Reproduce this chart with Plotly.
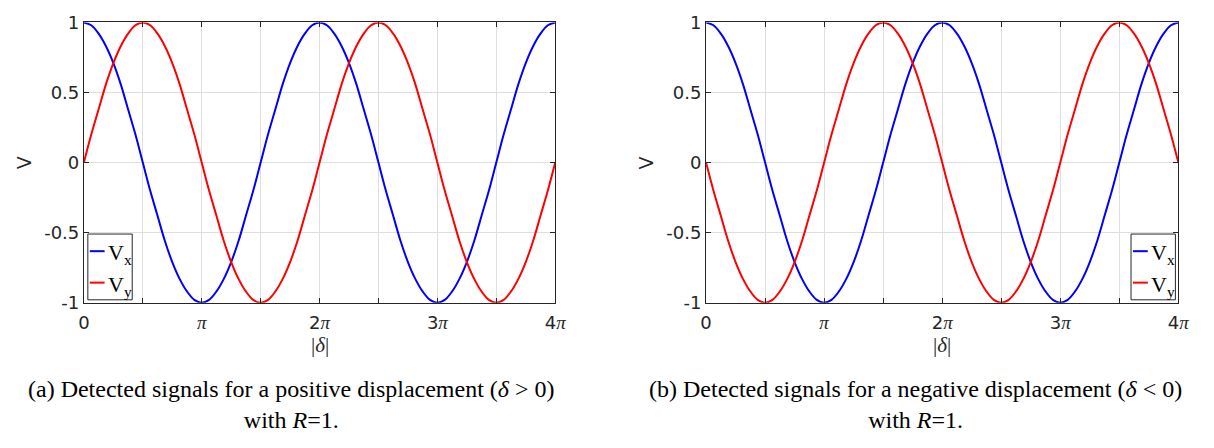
import plotly.graph_objects as go

W, H = 1214, 448

# ---- data ----
delta_over_pi = [0, 0.0625, 0.125, 0.1875, 0.25, 0.3125, 0.375, 0.4375,
                 0.5, 0.5625, 0.625, 0.6875, 0.75, 0.8125, 0.875, 0.9375,
                 1.0, 1.0625, 1.125, 1.1875, 1.25, 1.3125, 1.375, 1.4375,
                 1.5, 1.5625, 1.625, 1.6875, 1.75, 1.8125, 1.875, 1.9375,
                 2.0, 2.0625, 2.125, 2.1875, 2.25, 2.3125, 2.375, 2.4375,
                 2.5, 2.5625, 2.625, 2.6875, 2.75, 2.8125, 2.875, 2.9375,
                 3.0, 3.0625, 3.125, 3.1875, 3.25, 3.3125, 3.375, 3.4375,
                 3.5, 3.5625, 3.625, 3.6875, 3.75, 3.8125, 3.875, 3.9375,
                 4.0]

vx_pos = [1, 0.98, 0.92, 0.83, 0.71, 0.56, 0.38, 0.2,
          0, -0.2, -0.38, -0.56, -0.71, -0.83, -0.92, -0.98,
          -1, -0.98, -0.92, -0.83, -0.71, -0.56, -0.38, -0.2,
          0, 0.2, 0.38, 0.56, 0.71, 0.83, 0.92, 0.98,
          1, 0.98, 0.92, 0.83, 0.71, 0.56, 0.38, 0.2,
          0, -0.2, -0.38, -0.56, -0.71, -0.83, -0.92, -0.98,
          -1, -0.98, -0.92, -0.83, -0.71, -0.56, -0.38, -0.2,
          0, 0.2, 0.38, 0.56, 0.71, 0.83, 0.92, 0.98,
          1]
vy_pos = [0, 0.2, 0.38, 0.56, 0.71, 0.83, 0.92, 0.98,
          1, 0.98, 0.92, 0.83, 0.71, 0.56, 0.38, 0.2,
          0, -0.2, -0.38, -0.56, -0.71, -0.83, -0.92, -0.98,
          -1, -0.98, -0.92, -0.83, -0.71, -0.56, -0.38, -0.2,
          0, 0.2, 0.38, 0.56, 0.71, 0.83, 0.92, 0.98,
          1, 0.98, 0.92, 0.83, 0.71, 0.56, 0.38, 0.2,
          0, -0.2, -0.38, -0.56, -0.71, -0.83, -0.92, -0.98,
          -1, -0.98, -0.92, -0.83, -0.71, -0.56, -0.38, -0.2,
          0]
vx_neg = [1, 0.98, 0.92, 0.83, 0.71, 0.56, 0.38, 0.2,
          0, -0.2, -0.38, -0.56, -0.71, -0.83, -0.92, -0.98,
          -1, -0.98, -0.92, -0.83, -0.71, -0.56, -0.38, -0.2,
          0, 0.2, 0.38, 0.56, 0.71, 0.83, 0.92, 0.98,
          1, 0.98, 0.92, 0.83, 0.71, 0.56, 0.38, 0.2,
          0, -0.2, -0.38, -0.56, -0.71, -0.83, -0.92, -0.98,
          -1, -0.98, -0.92, -0.83, -0.71, -0.56, -0.38, -0.2,
          0, 0.2, 0.38, 0.56, 0.71, 0.83, 0.92, 0.98,
          1]
vy_neg = [0, -0.2, -0.38, -0.56, -0.71, -0.83, -0.92, -0.98,
          -1, -0.98, -0.92, -0.83, -0.71, -0.56, -0.38, -0.2,
          0, 0.2, 0.38, 0.56, 0.71, 0.83, 0.92, 0.98,
          1, 0.98, 0.92, 0.83, 0.71, 0.56, 0.38, 0.2,
          0, -0.2, -0.38, -0.56, -0.71, -0.83, -0.92, -0.98,
          -1, -0.98, -0.92, -0.83, -0.71, -0.56, -0.38, -0.2,
          0, 0.2, 0.38, 0.56, 0.71, 0.83, 0.92, 0.98,
          1, 0.98, 0.92, 0.83, 0.71, 0.56, 0.38, 0.2,
          0]

x_tickvals = [0, 1, 2, 3, 4]
x_minor_tickvals = [0.5, 1.5, 2.5, 3.5]
PI = '<span style="font-family:Liberation Serif;font-size:19px"><i>π</i></span>'
x_ticktext = ["0", PI, "2" + PI, "3" + PI, "4" + PI]
y_tickvals = [-1, -0.5, 0, 0.5, 1]
y_ticktext = ["-1", "-0.5", "0", "0.5", "1"]

captions = [
    "(a) Detected signals for a positive displacement (<i>δ</i> &gt; 0)<br>with <i>R</i>=1.",
    "(b) Detected signals for a negative displacement (<i>δ</i> &lt; 0)<br>with <i>R</i>=1.",
]

BLUE = "#0000ff"
RED = "#ff0000"
AX = "#262626"
GRID = "#dedede"
SANS = "DejaVu Sans"
SERIF = "Liberation Serif"

# plot areas in pixels (left, right, top, bottom)
areas = [(79, 557, 12, 306), (710, 1189, 12, 306)]

def px(x):
    return x / W

def py(y):
    return 1 - y / H

fig = go.Figure()
series = [(vx_pos, vy_pos), (vx_neg, vy_neg)]
for i, (vx, vy) in enumerate(series):
    xa = "x" if i == 0 else "x2"
    ya = "y" if i == 0 else "y2"
    fig.add_trace(go.Scatter(x=delta_over_pi, y=vx, mode="lines",
                             line=dict(color=BLUE, width=2, shape="spline", smoothing=1),
                             xaxis=xa, yaxis=ya, showlegend=False))
    fig.add_trace(go.Scatter(x=delta_over_pi, y=vy, mode="lines",
                             line=dict(color=RED, width=2, shape="spline", smoothing=1),
                             xaxis=xa, yaxis=ya, showlegend=False))

axcommon = dict(showline=True, linecolor=AX, linewidth=1, mirror="allticks",
                ticks="inside", ticklen=5, tickcolor=AX, tickwidth=1,
                showgrid=True, gridcolor=GRID, gridwidth=1, zeroline=False,
                tickfont=dict(family=SANS, size=18, color=AX))

layout = dict(width=W, height=H, margin=dict(l=0, r=0, t=0, b=0),
              paper_bgcolor="white", plot_bgcolor="white", showlegend=False)
for i, (l, r, t, b) in enumerate(areas):
    sx = "" if i == 0 else "2"
    layout["xaxis" + sx] = dict(axcommon, domain=[px(l), px(r)], range=[0, 4],
                                tickmode="array", tickvals=x_tickvals, ticktext=x_ticktext,
                                ticklabelstandoff=4,
                                minor=dict(tickvals=x_minor_tickvals, ticks="inside",
                                           ticklen=5, tickcolor=AX, tickwidth=1,
                                           showgrid=True, gridcolor=GRID, gridwidth=1),
                                anchor="y" + sx)
    layout["yaxis" + sx] = dict(axcommon, domain=[py(b), py(t)], range=[-1, 1],
                                tickmode="array", tickvals=y_tickvals, ticktext=y_ticktext,
                                anchor="x" + sx)
fig.update_layout(**layout)

annotations = []
shapes = []
for i, (l, r, t, b) in enumerate(areas):
    cx = (l + r) / 2
    # x label
    annotations.append(dict(x=px(cx), y=py(350), xref="paper", yref="paper",
                            text="|<i>δ</i>|", showarrow=False,
                            font=dict(family=SERIF, size=21, color=AX),
                            xanchor="center", yanchor="middle"))
    # y label
    annotations.append(dict(x=px(l - 61), y=py(159), xref="paper", yref="paper",
                            text="V", showarrow=False, textangle=-90,
                            font=dict(family=SANS, size=19, color=AX),
                            xanchor="center", yanchor="middle"))
    # caption
    capx = 290 if i == 0 else 922
    annotations.append(dict(x=px(capx), y=py(413), xref="paper", yref="paper",
                            text=captions[i], showarrow=False, align="center",
                            font=dict(family=SERIF, size=24, color="black"),
                            xanchor="center", yanchor="middle"))
    # legend box
    lx0 = l + 4 if i == 0 else r - 48
    lx1 = lx0 + 45
    ly0, ly1 = 234, 303
    shapes.append(dict(type="rect", xref="paper", yref="paper",
                       x0=px(lx0), x1=px(lx1), y0=py(ly1), y1=py(ly0),
                       line=dict(color=AX, width=1), fillcolor="white", layer="above"))
    for j, (col, lab) in enumerate([(BLUE, "V<sub>x</sub>"), (RED, "V<sub>y</sub>")]):
        yy = 252 + j * 33
        shapes.append(dict(type="line", xref="paper", yref="paper",
                           x0=px(lx0 + 2), x1=px(lx0 + 17), y0=py(yy), y1=py(yy),
                           line=dict(color=col, width=2), layer="above"))
        annotations.append(dict(x=px(lx0 + 18), y=py(yy + 3), xref="paper", yref="paper",
                                text=lab, showarrow=False,
                                font=dict(family=SERIF, size=22, color="black"),
                                xanchor="left", yanchor="middle"))

fig.update_layout(annotations=annotations, shapes=shapes)
fig.write_html("out.html")
